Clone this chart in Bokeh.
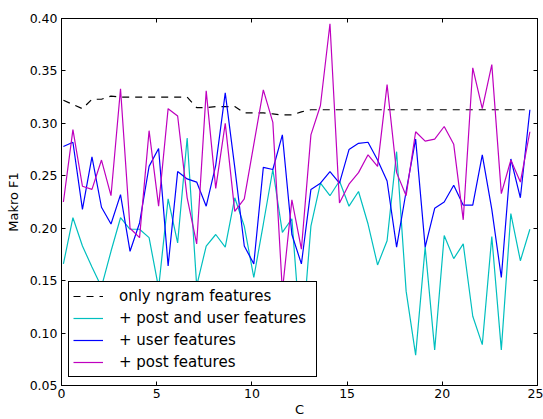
from bokeh.plotting import figure
from bokeh.models import (LinearAxis, Range1d, FixedTicker, PrintfTickFormatter,
                          Legend, LegendItem)
from bokeh.embed import file_html
from bokeh.resources import INLINE

C = [0.1, 0.6, 1.1, 1.6, 2.1, 2.6, 3.1, 3.6, 4.1, 4.6,
     5.1, 5.6, 6.1, 6.6, 7.1, 7.6, 8.1, 8.6, 9.1, 9.6,
     10.1, 10.6, 11.1, 11.6, 12.1, 12.6, 13.1, 13.6, 14.1, 14.6,
     15.1, 15.6, 16.1, 16.6, 17.1, 17.6, 18.1, 18.6, 19.1, 19.6,
     20.1, 20.6, 21.1, 21.6, 22.1, 22.6, 23.1, 23.6, 24.1, 24.6]

ngram = [0.322, 0.318, 0.314, 0.323, 0.323, 0.326, 0.325, 0.325, 0.325, 0.325,
         0.325, 0.325, 0.325, 0.325, 0.315, 0.315, 0.316, 0.316, 0.316, 0.310,
         0.310, 0.310, 0.309, 0.308, 0.308, 0.311, 0.313, 0.313, 0.313, 0.313,
         0.313, 0.313, 0.313, 0.313, 0.313, 0.313, 0.313, 0.313, 0.313, 0.313,
         0.313, 0.313, 0.313, 0.313, 0.313, 0.313, 0.313, 0.313, 0.313, 0.313]

post_user = [0.166, 0.210, 0.183, 0.163, 0.144, 0.178, 0.210, 0.199, 0.199, 0.191,
             0.143, 0.228, 0.186, 0.286, 0.145, 0.183, 0.194, 0.182, 0.229, 0.202,
             0.153, 0.204, 0.256, 0.196, 0.209, 0.088, 0.202, 0.243, 0.231, 0.245,
             0.221, 0.235, 0.204, 0.165, 0.188, 0.273, 0.140, 0.079, 0.182, 0.084,
             0.193, 0.171, 0.185, 0.116, 0.089, 0.192, 0.084, 0.214, 0.169, 0.199]

user = [0.278, 0.282, 0.218, 0.268, 0.220, 0.204, 0.232, 0.178, 0.205, 0.259,
        0.276, 0.164, 0.254, 0.247, 0.244, 0.221, 0.260, 0.329, 0.258, 0.183,
        0.166, 0.258, 0.256, 0.289, 0.194, 0.166, 0.237, 0.243, 0.254, 0.243,
        0.275, 0.281, 0.282, 0.265, 0.245, 0.182, 0.235, 0.285, 0.182, 0.219,
        0.225, 0.241, 0.222, 0.222, 0.270, 0.218, 0.153, 0.266, 0.229, 0.313]

post = [0.225, 0.294, 0.240, 0.237, 0.265, 0.231, 0.333, 0.200, 0.191, 0.293,
        0.221, 0.314, 0.307, 0.229, 0.185, 0.331, 0.238, 0.300, 0.216, 0.228,
        0.280, 0.332, 0.301, 0.140, 0.227, 0.180, 0.289, 0.317, 0.395, 0.224,
        0.242, 0.253, 0.270, 0.259, 0.337, 0.253, 0.231, 0.292, 0.283, 0.285,
        0.297, 0.280, 0.208, 0.353, 0.314, 0.356, 0.233, 0.265, 0.244, 0.292]

x_ticks = [0, 5, 10, 15, 20, 25]
y_ticks = [0.05, 0.10, 0.15, 0.20, 0.25, 0.30, 0.35, 0.40]

labels = ["only ngram features", "+ post and user features",
          "+ user features", "+ post features"]

FONT = "DejaVu Sans"

p = figure(width=543, height=419,
           x_range=Range1d(0, 25), y_range=Range1d(0.05, 0.40),
           output_backend="svg", toolbar_location=None,
           min_border_left=61, min_border_top=18,
           min_border_right=6, min_border_bottom=32)
p.grid.visible = False
p.outline_line_color = "black"
p.background_fill_color = "white"

r0 = p.line(C, ngram, line_color="black", line_width=1.2, line_dash="7 6")
r1 = p.line(C, post_user, line_color="#00bfbf", line_width=1.2)
r2 = p.line(C, user, line_color="#0000ff", line_width=1.2)
r3 = p.line(C, post, line_color="#bf00bf", line_width=1.2)


def style_axis(ax, ticks, fmt, show_labels):
    ax.ticker = FixedTicker(ticks=ticks)
    ax.formatter = PrintfTickFormatter(format=fmt)
    ax.major_tick_in = 4
    ax.major_tick_out = 0
    ax.minor_tick_line_color = None
    ax.axis_line_color = "black"
    ax.major_tick_line_color = "black"
    ax.major_label_text_font = FONT
    if show_labels:
        ax.major_label_text_font_size = "12.5px"
        ax.major_label_text_color = "black"
    else:
        ax.major_label_text_font_size = "0px"
        ax.major_label_text_color = None
        ax.major_label_text_alpha = 0
        ax.major_label_standoff = 0


xa = p.xaxis[0]
ya = p.yaxis[0]
style_axis(xa, x_ticks, "%d", True)
style_axis(ya, y_ticks, "%.2f", True)
xa.major_label_standoff = 3
ya.major_label_standoff = 4
xa.axis_label = "C"
ya.axis_label = "Makro F1"
for ax in (xa, ya):
    ax.axis_label_text_font = FONT
    ax.axis_label_text_font_size = "13px"
    ax.axis_label_text_font_style = "normal"
    ax.axis_label_text_color = "black"
xa.axis_label_standoff = 1
ya.axis_label_standoff = 6

top = LinearAxis()
style_axis(top, x_ticks, "%d", False)
p.add_layout(top, "above")
right = LinearAxis()
style_axis(right, y_ticks, "%.2f", False)
p.add_layout(right, "right")

legend = Legend(items=[LegendItem(label=labels[0], renderers=[r0]),
                       LegendItem(label=labels[1], renderers=[r1]),
                       LegendItem(label=labels[2], renderers=[r2]),
                       LegendItem(label=labels[3], renderers=[r3])],
                location=(7, 8))
legend.border_line_color = "black"
legend.border_line_width = 1
legend.border_line_alpha = 1
legend.background_fill_color = "white"
legend.background_fill_alpha = 1
legend.label_text_font = FONT
legend.label_text_font_size = "15px"
legend.label_text_color = "black"
legend.padding = 4
legend.spacing = 2
legend.margin = 0
legend.label_height = 20
legend.glyph_height = 20
legend.glyph_width = 30
legend.label_standoff = 16
legend.label_width = 193
p.add_layout(legend, "center")

open("out.html", "w").write(file_html(p, INLINE))
